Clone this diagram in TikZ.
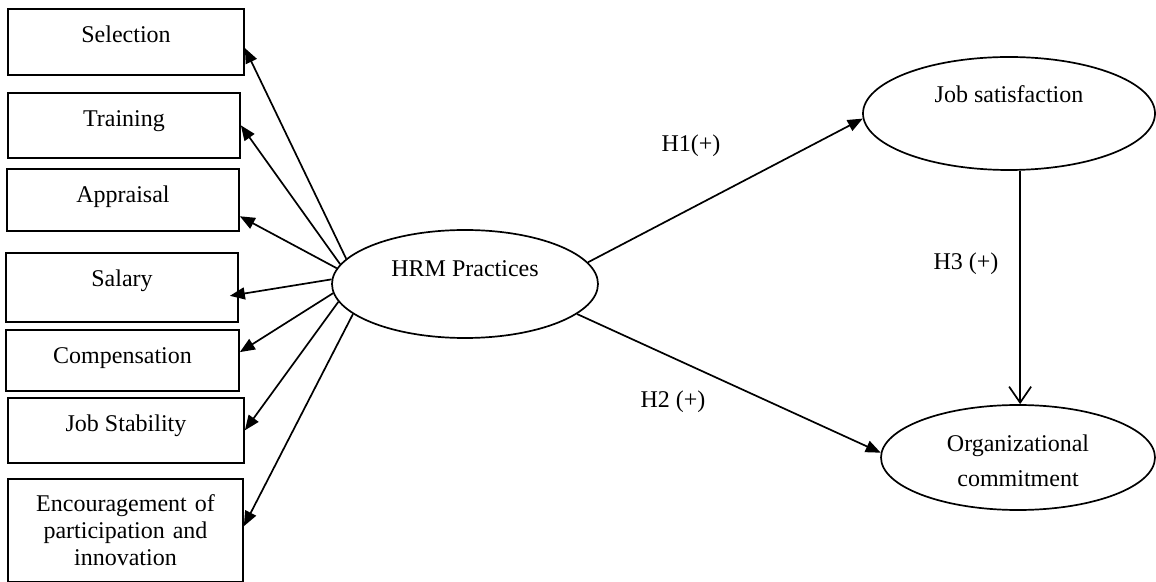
\documentclass[tikz,border=0pt]{standalone}
\usepackage{fontspec}
\setmainfont{Liberation Serif}
\usetikzlibrary{shapes.geometric, arrows.meta}

\tikzset{
  box/.style={draw, rectangle, line width=0.85pt, anchor=north},
  factor/.style={box, inner ysep=0pt, text height=17pt},
  construct/.style={draw, ellipse, line width=0.85pt, inner sep=2pt},
  link/.style={line width=0.85pt, -{Triangle[length=7.5pt, width=6pt]}},
  barb/.style={line width=0.85pt, -{Straight Barb[length=8pt, width=11pt]}}
}

\begin{document}
\begin{tikzpicture}[x=0.5pt, y=-0.5pt, font=\fontsize{12}{13.5}\selectfont]
\useasboundingbox (0,0) rectangle (1156,582);

% practices
\node[factor, minimum width=118pt, text depth=16pt] (sel) at (126,8) {Selection};
\node[factor, minimum width=116pt, text depth=15.5pt] (trn) at (124,92) {Training};
\node[factor, minimum width=116pt, text depth=14pt] (app) at (123,168) {Appraisal};
\node[factor, minimum width=116pt, text depth=17.5pt] (sal) at (122,252) {Salary};
\node[factor, minimum width=116.5pt, text depth=13.5pt] (cmp) at (122.5,329) {Compensation};
\node[factor, minimum width=118pt, text depth=15.5pt] (stb) at (126,397) {Job Stability};
\node[box, minimum width=117.5pt, minimum height=51.5pt, text width=110pt, align=center] (enc) at (125.5,478) {Encouragement of\\participation and\\innovation};

% constructs
\node[construct, minimum width=133pt, minimum height=54pt, text height=8.2pt, text depth=15.2pt] (hrm) at (465,284) {HRM Practices};
\node[construct, minimum width=146pt, minimum height=56.5pt, text height=8.2pt, text depth=19.5pt] (js) at (1009,113.5) {Job satisfaction};
\node[construct, minimum width=137pt, minimum height=52.5pt, align=center] (oc) at (1018,457.5) {\rule{0pt}{12pt}Organizational\\[4pt]commitment};

% hypotheses
\node (h1) at (691,146) {H1(+)};
\node (h2) at (673,402) {H2 (+)};
\node (h3) at (966,264) {H3 (+)};

\draw[link] (hrm.168) -- (sel.-3);
\draw[link] (hrm.171.5) -- (trn.east);
\draw[link] (hrm.173.4) -- (app.-8.8);
\draw[link] (hrm.178.3) -- ([shift={(-4.5pt,-4.25pt)}]sal.east);
\draw[link] (hrm.184.4) -- (cmp.4.7);
\draw[link] (hrm.188.8) -- (stb.east);
\draw[link] (hrm.195.7) -- (enc.2.2);

\draw[link] (hrm.10) -- (js.182);
\draw[link] (hrm.-15.5) -- (oc.178.5);
\draw[barb] (js.-79) -- (js.-79 |- oc.north);

\end{tikzpicture}
\end{document}
